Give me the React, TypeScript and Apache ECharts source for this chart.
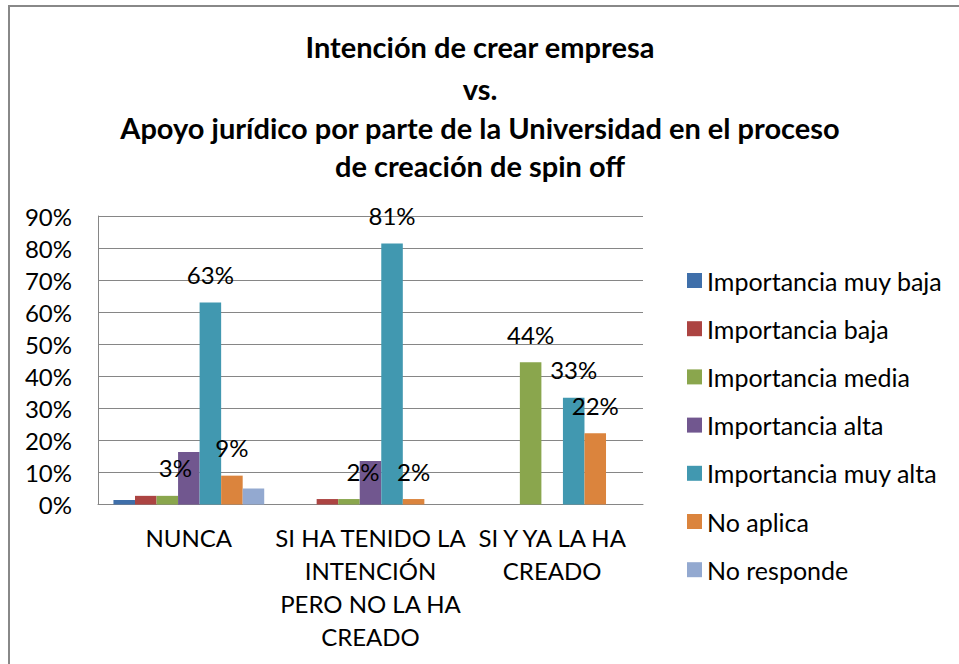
import React, { useEffect, useRef } from "react";
import * as echarts from "echarts";

const categories = [
  "NUNCA",
  "SI HA TENIDO LA\nINTENCIÓN\nPERO NO LA HA\nCREADO",
  "SI Y YA LA HA\nCREADO",
];

const seriesNames = [
  "Importancia muy baja",
  "Importancia baja",
  "Importancia media",
  "Importancia alta",
  "Importancia muy alta",
  "No aplica",
  "No responde",
];

const muyBaja = [1.4, 0, 0];
const baja = [2.7, 1.7, 0];
const media = [2.7, 1.7, 44.4];
const alta = [16.4, 13.6, 0];
const muyAlta = [63.0, 81.4, 33.3];
const noAplica = [9.0, 1.7, 22.2];
const noResponde = [5.0, 0, 0];

const yTicks = [0, 10, 20, 30, 40, 50, 60, 70, 80, 90];

const titleLines = [
  "Intención de crear empresa",
  "vs.",
  "Apoyo jurídico por parte de la Universidad en el proceso",
  "de creación de spin off",
];

const colors = ["#3F6FAA", "#AC4442", "#8AA64D", "#71578F", "#4198B0", "#DB843D", "#93A9D0"];
const labeled = [false, false, true, false, true, true, false];
const labelOffsets: Record<number, number[][]> = {
  2: [[8, 0], [14, 0], [0, 0]],
};

const FONT = "Lato, 'Open Sans', sans-serif";

export default function App() {
  const ref = useRef<HTMLDivElement>(null);
  useEffect(() => {
    if (!ref.current) return;
    const chart = echarts.init(ref.current, null, { renderer: "svg" });
    const allData = [muyBaja, baja, media, alta, muyAlta, noAplica, noResponde];
    const titleY = [46, 88, 127, 165];
    const option: any = {
      animation: false,
      backgroundColor: "#ffffff",
      textStyle: { fontFamily: FONT },
      graphic: [
        {
          type: "rect",
          shape: { x: 9, y: 6, width: 1000, height: 1000 },
          style: { fill: "none", stroke: "#888888", lineWidth: 2 },
          silent: true,
        },
        ...titleLines.map((t, i) => ({
          type: "text",
          x: 480,
          y: titleY[i],
          style: {
            text: t,
            align: "center",
            verticalAlign: "middle",
            fontFamily: FONT,
            fontWeight: "bold",
            fontSize: 29,
            fill: "#000000",
          },
        })),
      ],
      legend: {
        orient: "vertical",
        left: 682,
        top: 263,
        itemWidth: 15,
        itemHeight: 15,
        itemGap: 23.2,
        icon: "rect",
        data: seriesNames,
        textStyle: { fontFamily: FONT, fontSize: 25, color: "#000", lineHeight: 24, padding: [0, 0, 0, 0] },
      },
      grid: { left: 98, right: 316, top: 216, bottom: 159.5, containLabel: false },
      xAxis: {
        type: "category",
        data: categories,
        axisLine: { lineStyle: { color: "#868686", width: 1 } },
        axisTick: { show: false },
        axisLabel: {
          color: "#000",
          fontFamily: FONT,
          fontSize: 24,
          lineHeight: 33,
          margin: 16,
          interval: 0,
        },
      },
      yAxis: {
        type: "value",
        min: yTicks[0],
        max: yTicks[yTicks.length - 1],
        interval: 10,
        axisLine: { show: true, lineStyle: { color: "#868686", width: 1 } },
        axisTick: { show: false },
        splitLine: { lineStyle: { color: "#868686", width: 1 } },
        axisLabel: {
          color: "#000",
          fontFamily: FONT,
          fontSize: 24,
          margin: 26,
          formatter: "{value}%",
        },
      },
      series: seriesNames.map((name, si) => ({
        name,
        type: "bar",
        barGap: "0%",
        barCategoryGap: "17%",
        itemStyle: { color: colors[si] },
        data: allData[si].map((v, ci) => {
          const item: any = { value: v };
          if (labeled[si] && labelOffsets[si]) {
            item.label = { offset: labelOffsets[si][ci] };
          }
          return item;
        }),
        label: {
          show: labeled[si],
          position: "top",
          distance: 16,
          color: "#000",
          fontFamily: FONT,
          fontSize: 24,
          formatter: (p: any) => Math.round(p.value) + "%",
        },
      })),
    };
    chart.setOption(option);
    return () => chart.dispose();
  }, []);
  return (
    <div
      ref={ref}
      style={{ position: "fixed", left: 0, top: 0, width: 959, height: 664 }}
    />
  );
}
